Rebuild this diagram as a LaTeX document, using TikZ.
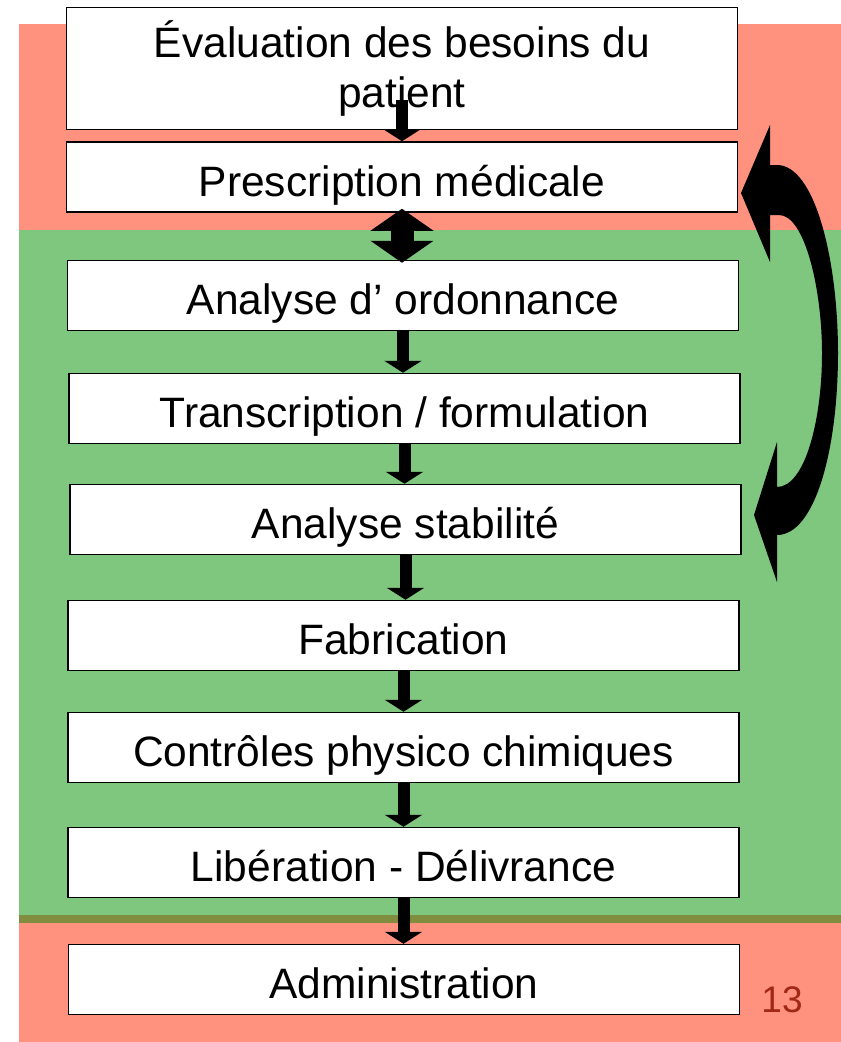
\documentclass[tikz,border=0pt]{standalone}
\usepackage{fontspec}
\setmainfont{Liberation Sans}
\usetikzlibrary{arrows.meta}

\definecolor{saumon}{RGB}{255,146,126}
\definecolor{vert}{RGB}{127,198,127}
\definecolor{olive}{RGB}{128,141,62}
\definecolor{numero}{RGB}{160,40,20}

\begin{document}
\begin{tikzpicture}[x=1pt, y=-1pt,
    etape/.style={draw, line width=1.5pt, fill=white, minimum width=671pt,
        minimum height=70pt, inner sep=0pt, align=center,
        text height=40pt, text depth=2pt,
        font=\fontsize{42.5}{50}\selectfont},
    etape 1/.style={minimum height=122pt, text height=, text depth=},
    fleche/.style={line width=12pt, -{Triangle[width=37pt, length=12pt]}}]

\useasboundingbox (0,0) rectangle (841,1042);

% zones de fond
\fill [saumon] (19,24) rectangle (841,230);
\fill [vert] (19,230) rectangle (841,915);
\fill [olive] (19,915) rectangle (841,923);
\fill [saumon] (19,923) rectangle (841,1042);

\foreach \n/\x/\y/\t in {1/402/68.5/{Évaluation des besoins du\\patient},
        2/402/177/{Prescription médicale},
        3/403/295.5/{Analyse d’ ordonnance},
        4/404.5/408.5/{Transcription / formulation},
        5/405.5/519.5/{Analyse stabilité},
        6/403.5/635.5/{Fabrication},
        7/403.5/747.5/{Contrôles physico chimiques},
        8/403.5/862.5/{Libération - Délivrance},
        9/404/979.5/{Administration}}
    \node [etape, etape \n/.try] (etape-\n) at (\x, \y) {\t};

\draw [fleche] ([yshift=30pt]etape-1.south) -- (etape-1.south |- etape-2.north);

\draw [line width=23pt,
    {Triangle[width=62pt, length=22pt]}-{Triangle[width=62pt, length=22pt]}]
    ([yshift=4pt]etape-2.south) -- ([yshift=-3pt]etape-2.south |- etape-3.north);

\foreach \i [evaluate=\i as \j using int(\i+1)] in {3, ..., 8}
    \draw [fleche] (etape-\i.south) -- (etape-\i.south |- etape-\j.north);

% fleche courbe double
\fill (741,193) -- (770,125) -- (770,165) -- (777,165)
    .. controls (815,165) and (838,260) .. (838,353)
    .. controls (838,450) and (815,535) .. (777,535)
    -- (777,582) -- (754,515) -- (777,442) -- (777,487)
    .. controls (805,487) and (822,420) .. (822,353)
    .. controls (822,290) and (805,215) .. (779,215)
    -- (770,215) -- (770,262) -- cycle;

\node [text=numero, font=\fontsize{37}{40}\selectfont] (page) at (782,1000) {13};

\end{tikzpicture}
\end{document}
